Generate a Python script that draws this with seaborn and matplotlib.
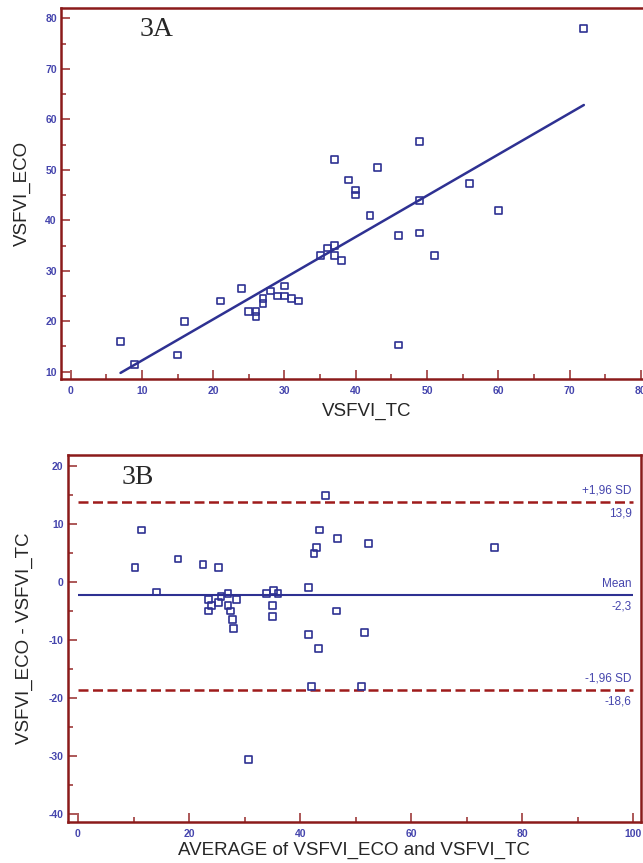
import numpy as np
import pandas as pd
import matplotlib
matplotlib.use("Agg")
import matplotlib.pyplot as plt
import seaborn as sns
from matplotlib.ticker import MultipleLocator

vsfvi_tc = [7, 9, 15, 16, 21, 24, 25, 26, 26, 27, 27, 28, 29, 30, 30, 31, 32, 35, 36,
            37, 37, 38, 37, 39, 40, 40, 42, 43, 46, 46, 49, 49, 49, 51, 56, 60, 72]
vsfvi_eco = [16, 11.5, 13.3, 20, 24, 26.5, 22, 22, 21, 24.5, 23.5, 26, 25, 25, 27, 24.5, 24, 33, 34.5,
             35, 33, 32, 52, 48, 46, 45, 41, 50.5, 37, 15.3, 55.6, 44, 37.5, 33, 47.3, 42, 78]

# Bland-Altman limits as printed on panel 3B
mean_diff = -2.3
upper_loa = 13.9
lower_loa = -18.6
loa_labels = [("+1,96 SD", "13,9"), ("Mean", "-2,3"), ("-1,96 SD", "-18,6")]

df = pd.DataFrame({"tc": vsfvi_tc, "eco": vsfvi_eco})
df["avg"] = (df["eco"] + df["tc"]) / 2
df["diff"] = df["eco"] - df["tc"]

navy = "#2E3192"
spine_red = "#8B1A1A"
tick_red = "#962A2A"
dash_red = "#9E1B1B"
label_blue = "#4545AD"

sns.set_style("white")
plt.rcParams["font.family"] = ["Liberation Sans", "DejaVu Sans"]
plt.rcParams["axes.unicode_minus"] = False

fig = plt.figure(figsize=(6.43, 8.63), dpi=100)
axA = fig.add_axes([61 / 643, 483.7 / 863, 587 / 643, 371 / 863])
axB = fig.add_axes([67.7 / 643, 41.3 / 863, 572.9 / 643, 366.4 / 863])


def style_axes(ax, xmaj, xmin, ymaj, ymin):
    for sp in ax.spines.values():
        sp.set_color(spine_red)
        sp.set_linewidth(1.8)
        sp.set_visible(True)
    ax.xaxis.set_major_locator(MultipleLocator(xmaj))
    ax.xaxis.set_minor_locator(MultipleLocator(xmin))
    ax.yaxis.set_major_locator(MultipleLocator(ymaj))
    ax.yaxis.set_minor_locator(MultipleLocator(ymin))
    ax.tick_params(which="both", direction="in", color=tick_red, width=1.1,
                   bottom=True, left=True, top=False, right=False)
    ax.tick_params(which="major", length=6.5)
    ax.tick_params(which="minor", length=3.5)
    ax.tick_params(axis="x", labelsize=7.5, labelcolor=label_blue, pad=5)
    ax.tick_params(axis="y", labelsize=7.5, labelcolor=label_blue, pad=3)
    for lab in ax.get_xticklabels() + ax.get_yticklabels():
        lab.set_fontweight("bold")


# ---- panel 3A: scatter with regression line
sns.scatterplot(data=df, x="tc", y="eco", marker="s", s=24, ax=axA, zorder=3)
pts = axA.collections[-1]
pts.set_facecolor("none")
pts.set_edgecolor(navy)
pts.set_linewidth(1.2)
sns.regplot(data=df, x="tc", y="eco", ci=None, scatter=False, truncate=True,
            color=navy, line_kws={"linewidth": 1.8}, ax=axA)
axA.set_xlim(-1.35, 81.0)
axA.set_ylim(8.5, 82.0)
style_axes(axA, 10, 5, 10, 5)
axA.set_xlabel("VSFVI_TC", fontsize=13.5)
axA.set_ylabel("VSFVI_ECO", fontsize=13.5)
axA.xaxis.set_label_coords(0.521, -0.064)
axA.yaxis.set_label_coords(-0.051, 0.5)
axA.text(0.162, 0.944, "3A", transform=axA.transAxes, fontsize=20,
         family=["Liberation Serif", "DejaVu Serif"], ha="center", va="center")

# ---- panel 3B: Bland-Altman
sns.scatterplot(data=df, x="avg", y="diff", marker="s", s=24, ax=axB, zorder=3)
pts = axB.collections[-1]
pts.set_facecolor("none")
pts.set_edgecolor(navy)
pts.set_linewidth(1.2)
axB.hlines(mean_diff, 0, 100, color=navy, linewidth=1.5, zorder=2)
for yv in (upper_loa, lower_loa):
    axB.hlines(yv, 0, 100, color=dash_red, linewidth=1.8, linestyles=(0, (4, 1.8)), zorder=2)
for yv, (top, bottom) in zip((upper_loa, mean_diff, lower_loa), loa_labels):
    axB.annotate(top, (99.7, yv), xytext=(0, 4), textcoords="offset points",
                 ha="right", va="bottom", fontsize=8.5, color=label_blue)
    axB.annotate(bottom, (99.7, yv), xytext=(0, -4), textcoords="offset points",
                 ha="right", va="top", fontsize=8.5, color=label_blue)
axB.set_xlim(-1.85, 101.3)
axB.set_ylim(-41.4, 21.9)
style_axes(axB, 20, 10, 10, 5)
axB.set_xlabel("AVERAGE of VSFVI_ECO and VSFVI_TC", fontsize=13.5)
axB.set_ylabel("VSFVI_ECO - VSFVI_TC", fontsize=13.5)
axB.xaxis.set_label_coords(0.5, -0.056)
axB.yaxis.set_label_coords(-0.061, 0.5)
axB.text(0.123, 0.939, "3B", transform=axB.transAxes, fontsize=20,
         family=["Liberation Serif", "DejaVu Serif"], ha="center", va="center")

fig.savefig("out.png", dpi=100)
